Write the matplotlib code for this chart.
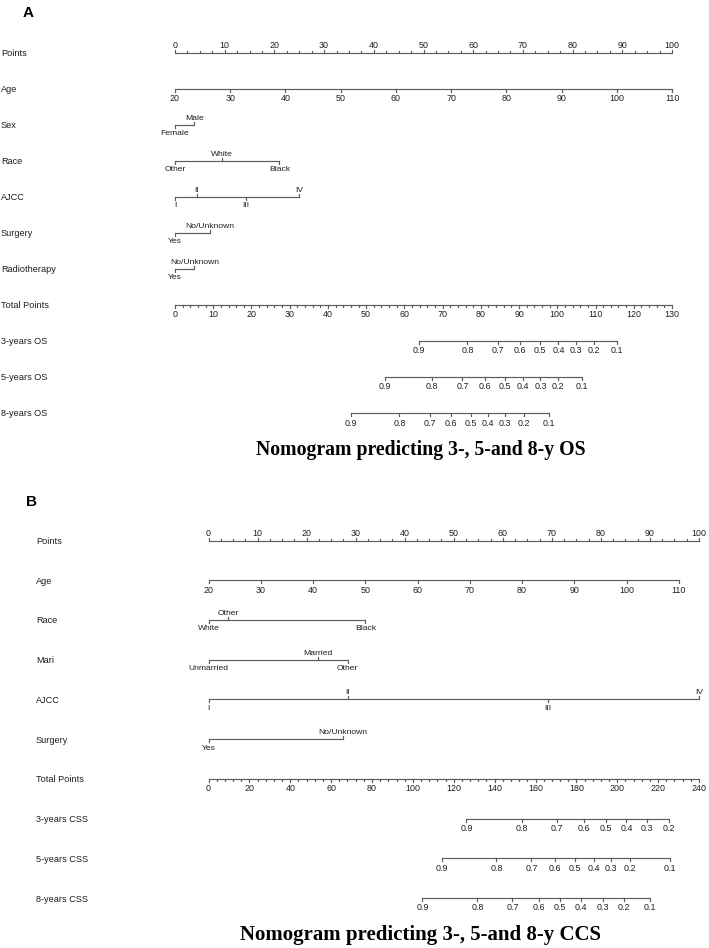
import matplotlib

matplotlib.use("Agg")

import matplotlib.pyplot as plt  # noqa: E402
import numpy as np  # noqa: E402
from matplotlib.transforms import blended_transform_factory  # noqa: E402

W, H, DPI = 709, 948, 100
LINE = "#5c5c5c"
TEXT = "#1e1e1e"
SANS = ["Liberation Sans", "DejaVu Sans"]
SERIF = ["Liberation Serif", "DejaVu Serif"]

# ---------------- panel A: OS nomogram ----------------
a_age_range = [20, 110]
a_age_pts = [0, 100]
a_age_ticks = [20, 30, 40, 50, 60, 70, 80, 90, 100, 110]
a_sex_levels = ["Female", "Male"]
a_sex_pts = [0, 3.9]
a_race_levels = ["Other", "White", "Black"]
a_race_pts = [0, 9.4, 21.0]
a_ajcc_levels = ["I", "II", "III", "IV"]
a_ajcc_pts = [0, 4.4, 14.2, 24.9]
a_surg_levels = ["Yes", "No/Unknown"]
a_surg_pts = [0, 7.0]
a_radio_levels = ["Yes", "No/Unknown"]
a_radio_pts = [0, 3.9]
a_total_max = 130
a_prob = [0.9, 0.8, 0.7, 0.6, 0.5, 0.4, 0.3, 0.2, 0.1]
a_os3_total = [63.8, 76.5, 84.4, 90.3, 95.5, 100.3, 104.8, 109.6, 115.6]
a_os5_total = [54.8, 67.3, 75.2, 81.1, 86.2, 90.9, 95.6, 100.2, 106.5]
a_os8_total = [46.0, 58.7, 66.7, 72.2, 77.4, 81.9, 86.4, 91.2, 97.8]

# ---------------- panel B: CSS nomogram ----------------
b_age_range = [20, 110]
b_age_pts = [0, 95.9]
b_age_ticks = [20, 30, 40, 50, 60, 70, 80, 90, 100, 110]
b_race_levels = ["White", "Other", "Black"]
b_race_pts = [0, 4.0, 32.0]
b_mari_levels = ["Unmarried", "Married", "Other"]
b_mari_pts = [0, 22.3, 28.4]
b_ajcc_levels = ["I", "II", "III", "IV"]
b_ajcc_pts = [0, 28.4, 69.2, 100]
b_surg_levels = ["Yes", "No/Unknown"]
b_surg_pts = [0, 27.4]
b_total_max = 240
b_css3_prob = [0.9, 0.8, 0.7, 0.6, 0.5, 0.4, 0.3, 0.2]
b_css3_total = [126.2, 153.4, 170.6, 183.5, 194.4, 204.5, 214.7, 225.2]
b_prob = [0.9, 0.8, 0.7, 0.6, 0.5, 0.4, 0.3, 0.2, 0.1]
b_css5_total = [114.3, 140.9, 158.0, 169.7, 179.5, 188.4, 196.8, 206.0, 225.6]
b_css8_total = [104.7, 131.6, 148.7, 161.5, 171.9, 182.4, 193.0, 203.1, 216.1]


def alternating(n):
    # first level below the line, then alternate
    return ["below" if i % 2 == 0 else "above" for i in range(n)]


def draw_scale(ax, y, xs, labels, side, row_px, majors=None, fs=6.4):
    xs = np.asarray(xs, dtype=float)
    if isinstance(side, str):
        side = [side] * len(xs)
    if majors is None:
        majors = [True] * len(xs)
    ax.plot([xs.min(), xs.max()], [y, y], color=LINE, lw=0.85,
            solid_capstyle="butt", clip_on=False)
    for x, lab, s, maj in zip(xs, labels, side, majors):
        tl = (3.0 if maj else 2.0) / row_px
        d = -tl if s == "above" else tl
        ax.plot([x, x], [y, y + d], color=LINE, lw=0.85, clip_on=False)
        if lab:
            off = 5 if s == "above" else -5.5
            ax.annotate(lab, (x, y), xytext=(0, off), textcoords="offset pixels",
                        ha="center", va="baseline" if s == "above" else "top",
                        fontsize=fs, color=TEXT, family=SANS, annotation_clip=False)


def fmt(v):
    return f"{v:g}"


def panel(fig, x0, x100, y_first, y_last, label_x, rows):
    n = len(rows)
    ax = fig.add_axes([x0 / W, 1 - y_last / H, (x100 - x0) / W, (y_last - y_first) / H])
    ax.set_xlim(0, 100)
    ax.set_ylim(n - 1, 0)
    ax.axis("off")
    row_px = (y_last - y_first) / (n - 1)
    tr = blended_transform_factory(fig.transFigure, ax.transData)
    for i, (name, kind, spec) in enumerate(rows):
        ax.text(label_x / W, i + 1.0 / row_px, name, transform=tr, ha="left", va="center",
                fontsize=6.6, color=TEXT, family=SANS)
        if kind == "points":
            ticks = np.arange(0, 100.01, 2.5)
            labs = [fmt(t) if t % 10 == 0 else "" for t in ticks]
            draw_scale(ax, i, ticks, labs, "above", row_px, [t % 10 == 0 for t in ticks])
        elif kind == "cont":
            rng, pts, ticks = spec
            xs = np.interp(ticks, rng, pts)
            draw_scale(ax, i, xs, [fmt(t) for t in ticks], "below", row_px)
        elif kind == "cat":
            levels, pts = spec
            draw_scale(ax, i, pts, levels, alternating(len(levels)), row_px, fs=6.1)
        elif kind == "total":
            tmax, step, minor = spec
            ticks = np.arange(0, tmax + 0.01, minor)
            labs = [fmt(t) if t % step == 0 else "" for t in ticks]
            draw_scale(ax, i, ticks * 100 / tmax, labs, "below", row_px,
                       [t % step == 0 for t in ticks])
        elif kind == "prob":
            probs, totals, tmax = spec
            xs = np.asarray(totals) * 100 / tmax
            draw_scale(ax, i, xs, [fmt(p) for p in probs], "below", row_px)
    return ax


fig = plt.figure(figsize=(W / DPI, H / DPI), dpi=DPI)
fig.patch.set_facecolor("white")

rows_a = [
    ("Points", "points", None),
    ("Age", "cont", (a_age_range, a_age_pts, a_age_ticks)),
    ("Sex", "cat", (a_sex_levels, a_sex_pts)),
    ("Race", "cat", (a_race_levels, a_race_pts)),
    ("AJCC", "cat", (a_ajcc_levels, a_ajcc_pts)),
    ("Surgery", "cat", (a_surg_levels, a_surg_pts)),
    ("Radiotherapy", "cat", (a_radio_levels, a_radio_pts)),
    ("Total Points", "total", (a_total_max, 10, 2)),
    ("3-years OS", "prob", (a_prob, a_os3_total, a_total_max)),
    ("5-years OS", "prob", (a_prob, a_os5_total, a_total_max)),
    ("8-years OS", "prob", (a_prob, a_os8_total, a_total_max)),
]
panel(fig, 175, 672, 52.7, 413, 1, rows_a)

rows_b = [
    ("Points", "points", None),
    ("Age", "cont", (b_age_range, b_age_pts, b_age_ticks)),
    ("Race", "cat", (b_race_levels, b_race_pts)),
    ("Mari", "cat", (b_mari_levels, b_mari_pts)),
    ("AJCC", "cat", (b_ajcc_levels, b_ajcc_pts)),
    ("Surgery", "cat", (b_surg_levels, b_surg_pts)),
    ("Total Points", "total", (b_total_max, 20, 4)),
    ("3-years CSS", "prob", (b_css3_prob, b_css3_total, b_total_max)),
    ("5-years CSS", "prob", (b_prob, b_css5_total, b_total_max)),
    ("8-years CSS", "prob", (b_prob, b_css8_total, b_total_max)),
]
panel(fig, 208.5, 699, 540.5, 898, 36, rows_b)

fig.text(23 / W, 1 - 13 / H, "A", fontsize=11, fontweight="bold", family=SANS,
         ha="left", va="center", color="black")
fig.text(26 / W, 1 - 502 / H, "B", fontsize=11, fontweight="bold", family=SANS,
         ha="left", va="center", color="black")
fig.text(421 / W, 1 - 450 / H, "Nomogram predicting 3-, 5-and 8-y OS", fontsize=14.2,
         fontweight="bold", family=SERIF, ha="center", va="center", color="black")
fig.text(421 / W, 1 - 935 / H, "Nomogram predicting 3-, 5-and 8-y CCS", fontsize=15,
         fontweight="bold", family=SERIF, ha="center", va="center", color="black")

fig.savefig("out.png", dpi=DPI, facecolor="white")
plt.close(fig)
